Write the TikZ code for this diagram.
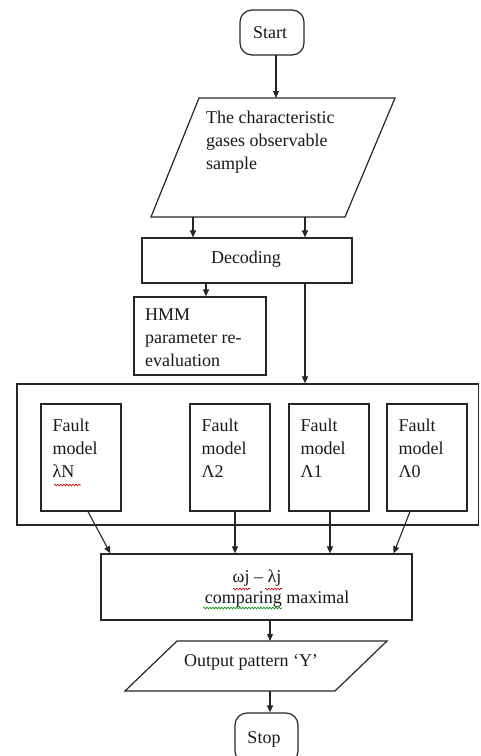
\documentclass[tikz,border=0pt]{standalone}
\usepackage{fontspec}
\setmainfont{Liberation Serif}
\usetikzlibrary{arrows.meta,calc,decorations.pathmorphing}
\begin{document}
\begin{tikzpicture}[x=1pt,y=-1pt,
  every node/.style={font=\fontsize{18}{23}\selectfont, text=black!90},
  ln/.style={draw=black!85, line width=1.2pt},
  box/.style={ln, rectangle, inner sep=0pt},
  term/.style={ln, rectangle, rounded corners=12pt, inner sep=0pt},
  arr/.style={draw=black!85, line width=1.1pt, -{Triangle[length=7pt,width=6pt]}},
  txt/.style={inner sep=0pt, align=left},
  squig/.style={line width=0.6pt, decorate, decoration={snake, amplitude=0.9pt, segment length=3pt}}
]
\useasboundingbox (0,0) rectangle (481,756);

% Start
\node[term, minimum width=64pt, minimum height=45pt] (start) at (272,32.5) {};
\node[txt] (starttxt) at (270,33) {Start};

% input parallelogram
\coordinate (p1a) at (199,98);
\coordinate (p1b) at (395,98);
\coordinate (p1c) at (345,217);
\coordinate (p1d) at (151,217);
\draw[ln] (p1a) -- (p1b) -- (p1c) -- (p1d) -- cycle;
\node[txt, anchor=north west] (gas) at (206,111) {The characteristic\\gases observable\\sample};
\coordinate (s1) at (276,55);
\draw[arr] (s1) -- (s1 |- p1a);

% Decoding
\node[box, minimum width=210pt, minimum height=45pt] (dec) at (247,260.5) {};
\node[txt] (dectxt) at (246,259) {Decoding};
\coordinate (q1) at (193,217);
\coordinate (q2) at (305,217);
\draw[arr] (q1) -- (q1 |- dec.north);
\draw[arr] (q2) -- (q2 |- dec.north);

% HMM
\node[box, minimum width=132pt, minimum height=78pt] (hmm) at (200,336) {};
\node[txt, anchor=north west] (hmmtxt) at (145,309) {HMM\\parameter re-\\evaluation};
\coordinate (d1) at (206,283);
\draw[arr] (d1) -- (d1 |- hmm.north);

% big container
\node[box, minimum width=461.5pt, minimum height=141pt] (big) at (247.75,454.5) {};
\coordinate (d2) at (305,283);
\draw[arr] (d2) -- (d2 |- big.north);

% fault models
\node[box, minimum width=80pt, minimum height=107pt] (fN) at (81,457.5) {};
\node[box, minimum width=80pt, minimum height=107pt] (f2) at (230,457.5) {};
\node[box, minimum width=80pt, minimum height=107pt] (f1) at (329,457.5) {};
\node[box, minimum width=80pt, minimum height=107pt] (f0) at (427,457.5) {};
\node[txt, anchor=north west] (fNt) at ($(fN.north west)+(12,15)$) {Fault\\model\\λN};
\node[txt, anchor=north west] (f2t) at ($(f2.north west)+(12,15)$) {Fault\\model\\Λ2};
\node[txt, anchor=north west] (f1t) at ($(f1.north west)+(12,15)$) {Fault\\model\\Λ1};
\node[txt, anchor=north west] (f0t) at ($(f0.north west)+(12,15)$) {Fault\\model\\Λ0};
\draw[squig, red!75!black] (54,485) -- (81,485);

% comparing box
\node[box, minimum width=311pt, minimum height=66pt] (cmp) at (256.5,587) {};
\node[txt] (cmp1) at (257,578) {ωj – λj};
\node[txt] (cmp2) at (277,599) {comparing maximal};
\draw[squig, red!75!black] (233,589) -- (250,589);
\draw[squig, red!75!black] (265,589) -- (282,589);
\draw[squig, green!55!black] (203,608) -- (282,608);

\draw[arr] ([xshift=7pt]fN.south) -- ($(cmp.north west)+(10,0)$);
\draw[arr] ([xshift=5pt]f2.south) -- ([xshift=5pt]f2.south |- cmp.north);
\draw[arr] ([xshift=1pt]f1.south) -- ([xshift=1pt]f1.south |- cmp.north);
\draw[arr] ([xshift=-17pt]f0.south) -- ($(cmp.north east)+(-19,0)$);

% output parallelogram
\coordinate (p2a) at (177,641);
\coordinate (p2b) at (387,641);
\coordinate (p2c) at (335,691);
\coordinate (p2d) at (125,691);
\draw[ln] (p2a) -- (p2b) -- (p2c) -- (p2d) -- cycle;
\node[txt] (outtxt) at (251,662) {Output pattern ‘Y’};
\coordinate (c1) at (270,620);
\draw[arr] (c1) -- (c1 |- p2a);

% Stop
\node[term, minimum width=63pt, minimum height=50pt] (stop) at (266.5,738) {};
\node[txt] (stoptxt) at (264,739) {Stop};
\coordinate (o1) at (270,691);
\draw[arr] (o1) -- (o1 |- stop.north);
\end{tikzpicture}
\end{document}
